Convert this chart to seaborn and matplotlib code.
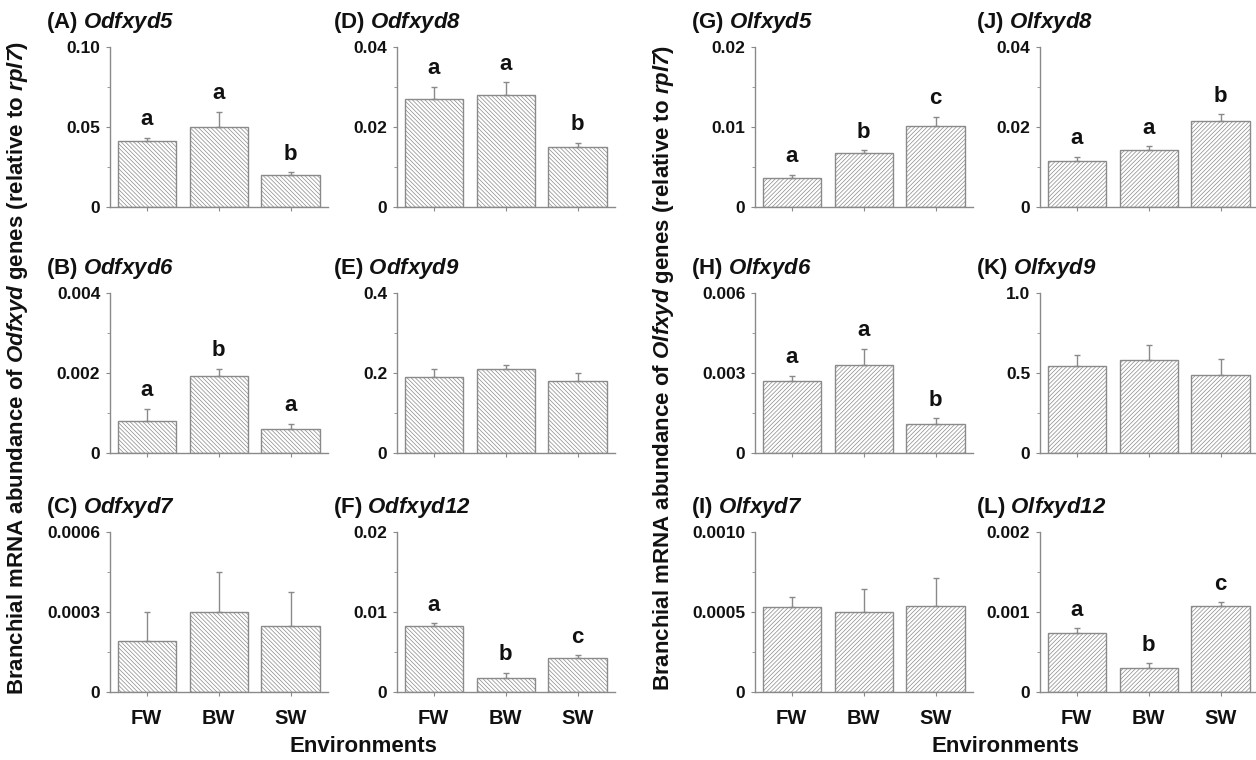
import numpy as np
import pandas as pd
import matplotlib
matplotlib.use("Agg")
import matplotlib.pyplot as plt
import seaborn as sns

# ==============================
# Data (mean, upper SEM, letters)
# ==============================

envs = ["FW", "BW", "SW"]

# Odfxyd panels
mean_A = [0.041, 0.050, 0.020]
err_A = [0.0023, 0.0094, 0.0018]
let_A = ["a", "a", "b"]
ticks_A = ["0", "0.05", "0.10"]

mean_B = [0.00081, 0.00192, 0.00061]
err_B = [0.00030, 0.00019, 0.00012]
let_B = ["a", "b", "a"]
ticks_B = ["0", "0.002", "0.004"]

mean_C = [0.000190, 0.000301, 0.000246]
err_C = [0.000111, 0.000150, 0.000129]
let_C = ["", "", ""]
ticks_C = ["0", "0.0003", "0.0006"]

mean_D = [0.0271, 0.0281, 0.0151]
err_D = [0.0029, 0.0031, 0.0010]
let_D = ["a", "a", "b"]
ticks_D = ["0", "0.02", "0.04"]

mean_E = [0.191, 0.211, 0.181]
err_E = [0.020, 0.010, 0.019]
let_E = ["", "", ""]
ticks_E = ["0", "0.2", "0.4"]

mean_F = [0.0082, 0.0017, 0.0042]
err_F = [0.0004, 0.0007, 0.0004]
let_F = ["a", "b", "c"]
ticks_F = ["0", "0.01", "0.02"]

# Olfxyd panels
mean_G = [0.0036, 0.0067, 0.0101]
err_G = [0.0004, 0.0004, 0.0012]
let_G = ["a", "b", "c"]
ticks_G = ["0", "0.01", "0.02"]

mean_H = [0.0027, 0.0033, 0.0011]
err_H = [0.0002, 0.0006, 0.0002]
let_H = ["a", "a", "b"]
ticks_H = ["0", "0.003", "0.006"]

mean_I = [0.000531, 0.000502, 0.000539]
err_I = [0.000060, 0.000143, 0.000175]
let_I = ["", "", ""]
ticks_I = ["0", "0.0005", "0.0010"]

mean_J = [0.0116, 0.0143, 0.0215]
err_J = [0.0009, 0.0009, 0.0017]
let_J = ["a", "a", "b"]
ticks_J = ["0", "0.02", "0.04"]

mean_K = [0.544, 0.583, 0.490]
err_K = [0.068, 0.092, 0.098]
let_K = ["", "", ""]
ticks_K = ["0", "0.5", "1.0"]

mean_L = [0.000743, 0.000299, 0.00108]
err_L = [0.000054, 0.000058, 0.000040]
let_L = ["a", "b", "c"]
ticks_L = ["0", "0.001", "0.002"]

# ==============================
# Style
# ==============================

sns.set_style("ticks")
plt.rcParams["font.family"] = ["Liberation Sans", "DejaVu Sans"]
plt.rcParams["mathtext.fontset"] = "custom"
plt.rcParams["mathtext.it"] = "Liberation Sans:italic:bold"
plt.rcParams["mathtext.rm"] = "Liberation Sans:italic:bold"
plt.rcParams["mathtext.bf"] = "Liberation Sans:italic:bold"
plt.rcParams["hatch.linewidth"] = 0.5

GREY = "#8a8a8a"
TXT = "#111111"
HATCH_O = "\\" * 8
HATCH_L = "/" * 8

fig = plt.figure(figsize=(12.56, 7.6), dpi=100)
W, H = 1256, 760

col_left = [110, 397, 755, 1040]
col_width = 218
row_top = [47, 293, 532]
row_height = 160

panels = [
    # col, row, tag, gene, means, errs, letters, ticklabels, hatch
    (0, 0, "A", "Odfxyd5", mean_A, err_A, let_A, ticks_A, HATCH_O),
    (0, 1, "B", "Odfxyd6", mean_B, err_B, let_B, ticks_B, HATCH_O),
    (0, 2, "C", "Odfxyd7", mean_C, err_C, let_C, ticks_C, HATCH_O),
    (1, 0, "D", "Odfxyd8", mean_D, err_D, let_D, ticks_D, HATCH_O),
    (1, 1, "E", "Odfxyd9", mean_E, err_E, let_E, ticks_E, HATCH_O),
    (1, 2, "F", "Odfxyd12", mean_F, err_F, let_F, ticks_F, HATCH_O),
    (2, 0, "G", "Olfxyd5", mean_G, err_G, let_G, ticks_G, HATCH_L),
    (2, 1, "H", "Olfxyd6", mean_H, err_H, let_H, ticks_H, HATCH_L),
    (2, 2, "I", "Olfxyd7", mean_I, err_I, let_I, ticks_I, HATCH_L),
    (3, 0, "J", "Olfxyd8", mean_J, err_J, let_J, ticks_J, HATCH_L),
    (3, 1, "K", "Olfxyd9", mean_K, err_K, let_K, ticks_K, HATCH_L),
    (3, 2, "L", "Olfxyd12", mean_L, err_L, let_L, ticks_L, HATCH_L),
]

for col, row, tag, gene, means, errs, letters, tlabels, hatch in panels:
    x0 = col_left[col] / W
    y0 = 1 - (row_top[row] + row_height) / H
    ax = fig.add_axes([x0, y0, col_width / W, row_height / H])

    df = pd.DataFrame({"env": envs, "value": means})
    sns.barplot(data=df, x="env", y="value", ax=ax, color="white",
                edgecolor=GREY, linewidth=1.0, width=0.81, errorbar=None,
                saturation=1)
    for p in ax.patches:
        p.set_hatch(hatch)
        p.set_facecolor("white")
        p.set_edgecolor(GREY)

    xs = np.arange(len(envs))
    ax.errorbar(xs, means, yerr=[np.zeros(len(errs)), errs], fmt="none",
                ecolor=GREY, elinewidth=1.0, capsize=2, capthick=1.0)

    tops = np.array(means) + np.array(errs)
    for xi, top, lab in zip(xs, tops, letters):
        if lab:
            ax.annotate(lab, xy=(xi, top), xytext=(0, 9), textcoords="offset points",
                        ha="center", va="baseline", fontsize=16,
                        fontweight="bold", color=TXT)

    ymax = float(tlabels[-1])
    ax.set_ylim(0, ymax)
    ax.set_xlim(-0.51, 2.52)
    ax.set_yticks([0, ymax / 2, ymax])
    ax.set_yticklabels(tlabels)
    ax.set_yticks([ymax / 4, ymax * 3 / 4], minor=True)

    ax.set_xlabel("")
    ax.set_ylabel("")
    ax.set_xticks(xs)
    if row == 2:
        ax.set_xticklabels(envs)
    else:
        ax.set_xticklabels([])

    sns.despine(ax=ax)
    for s in ["left", "bottom"]:
        ax.spines[s].set_color(GREY)
        ax.spines[s].set_linewidth(1.0)
    ax.tick_params(axis="y", which="major", length=3, color=GREY, pad=4,
                   labelsize=12.5, labelcolor=TXT)
    ax.tick_params(axis="y", which="minor", length=2, color=GREY)
    ax.tick_params(axis="x", length=3, color=GREY, pad=9, labelsize=14.5,
                   labelcolor=TXT)
    for t in ax.get_yticklabels() + ax.get_xticklabels():
        t.set_fontweight("bold")

    ax.annotate("(" + tag + ") $\\mathit{" + gene + "}$", xy=(0, 1),
                xycoords="axes fraction", xytext=(-46, 14),
                textcoords="offset points", ha="left", va="baseline",
                fontsize=16, fontweight="bold", color=TXT)

# ==============================
# Shared labels
# ==============================

fig.text(18 / W, 1 - 368 / H,
         "Branchial mRNA abundance of $\\mathit{Odfxyd}$ genes (relative to $\\mathit{rpl7}$)",
         rotation=90, ha="center", va="center", fontsize=16, fontweight="bold",
         color=TXT)
fig.text(663 / W, 1 - 368 / H,
         "Branchial mRNA abundance of $\\mathit{Olfxyd}$ genes (relative to $\\mathit{rpl7}$)",
         rotation=90, ha="center", va="center", fontsize=16, fontweight="bold",
         color=TXT)
fig.text(363 / W, 1 - 746 / H, "Environments", ha="center", va="center",
         fontsize=16, fontweight="bold", color=TXT)
fig.text(1005 / W, 1 - 746 / H, "Environments", ha="center", va="center",
         fontsize=16, fontweight="bold", color=TXT)

fig.savefig("out.png", dpi=100)
